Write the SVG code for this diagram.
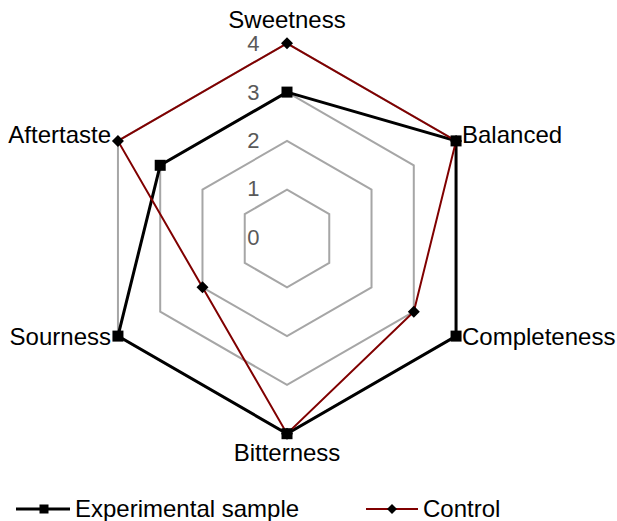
<svg xmlns="http://www.w3.org/2000/svg" xmlns:xlink="http://www.w3.org/1999/xlink" width="617" height="521" viewBox="0 0 617 521">
<style>
.grid{fill:none;stroke:#a6a6a6;stroke-width:2}
.exp{fill:none;stroke:#000;stroke-width:3;stroke-linejoin:miter}
.ctl{fill:none;stroke:#800000;stroke-width:2}
.lbl{font-family:"Liberation Sans",Arial,sans-serif;font-size:24px;fill:#000}
.tick{font-family:"Liberation Sans",Arial,sans-serif;font-size:22px;fill:#595959;text-anchor:end}
</style>
<defs>
<rect id="sq" x="-5.5" y="-5.5" width="11" height="11" fill="#000"/>
<polygon id="dm" points="0,-6 6,0 0,6 -6,0" fill="#000"/>
<rect id="sqs" x="-4.5" y="-4.5" width="9" height="9" fill="#000"/>
<polygon id="dms" points="0,-5 5,0 0,5 -5,0" fill="#000"/>
</defs>
<rect width="617" height="521" fill="#fff"/>
<g id="grid">
<polygon class="grid" points="287,189.7 329.26,214.1 329.26,262.9 287,287.3 244.74,262.9 244.74,214.1"/>
<polygon class="grid" points="287,140.9 371.52,189.7 371.52,287.3 287,336.1 202.48,287.3 202.48,189.7"/>
<polygon class="grid" points="287,92.1 413.79,165.3 413.79,311.7 287,384.9 160.21,311.7 160.21,165.3"/>
<polygon class="grid" points="287,43.3 456.05,140.9 456.05,336.1 287,433.7 117.95,336.1 117.95,140.9"/>
</g>
<g id="ticks">
<text class="tick" x="259.5" y="51">4</text>
<text class="tick" x="259.5" y="100">3</text>
<text class="tick" x="259.5" y="148">2</text>
<text class="tick" x="259.5" y="196">1</text>
<text class="tick" x="259.5" y="245">0</text>
</g>
<g id="connectors">
<polygon id="exp-line" class="exp" points="287,92.1 456.05,140.9 456.05,336.1 287,433.7 117.95,336.1 160.21,165.3"/>
<polygon id="ctl-line" class="ctl" points="287,43.3 456.05,140.9 413.79,311.7 287,433.7 202.48,287.3 117.95,140.9"/>
</g>
<g id="ctl-markers">
<use xlink:href="#dm" x="287" y="43.3"/>
<use xlink:href="#dm" x="456.05" y="140.9"/>
<use xlink:href="#dm" x="413.79" y="311.7"/>
<use xlink:href="#dm" x="287" y="433.7"/>
<use xlink:href="#dm" x="202.48" y="287.3"/>
<use xlink:href="#dm" x="117.95" y="140.9"/>
</g>
<g id="exp-markers">
<use xlink:href="#sq" x="287" y="92.1"/>
<use xlink:href="#sq" x="456.05" y="140.9"/>
<use xlink:href="#sq" x="456.05" y="336.1"/>
<use xlink:href="#sq" x="287" y="433.7"/>
<use xlink:href="#sq" x="117.95" y="336.1"/>
<use xlink:href="#sq" x="160.21" y="165.3"/>
</g>
<g id="node-sweetness"><text class="lbl" x="287" y="28" text-anchor="middle">Sweetness</text></g>
<g id="node-balanced"><text class="lbl" x="462" y="143">Balanced</text></g>
<g id="node-completeness"><text class="lbl" x="462" y="345">Completeness</text></g>
<g id="node-bitterness"><text class="lbl" x="287" y="461" text-anchor="middle">Bitterness</text></g>
<g id="node-sourness"><text class="lbl" x="111" y="345" text-anchor="end">Sourness</text></g>
<g id="node-aftertaste"><text class="lbl" x="111" y="143" text-anchor="end">Aftertaste</text></g>
<g id="legend">
<line x1="16" y1="509" x2="70" y2="509" stroke="#000" stroke-width="3"/>
<use xlink:href="#sqs" x="44" y="509"/>
<text class="lbl" x="75" y="517">Experimental sample</text>
<line x1="366" y1="509" x2="418" y2="509" stroke="#800000" stroke-width="2"/>
<use xlink:href="#dms" x="392" y="509"/>
<text class="lbl" x="423" y="517">Control</text>
</g>
</svg>
